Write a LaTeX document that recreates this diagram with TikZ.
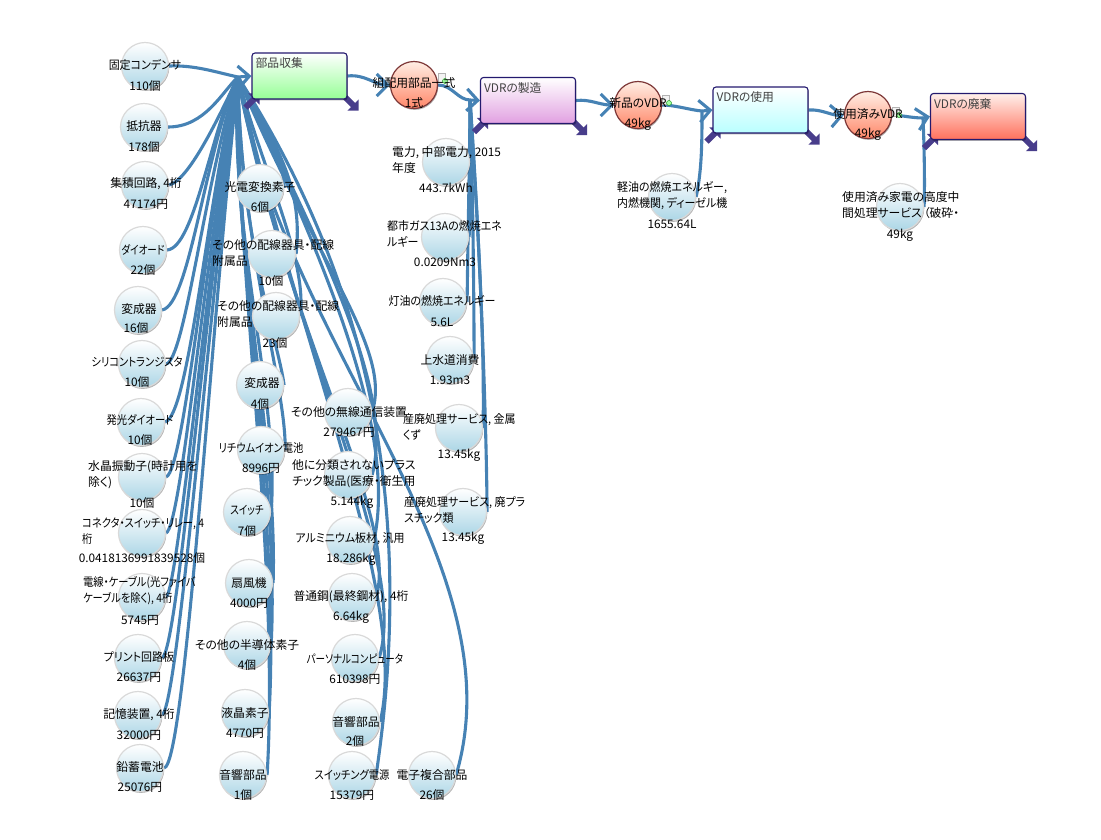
\documentclass[tikz,border=0pt]{standalone}
\usepackage{fontspec}
\setmainfont{Noto Sans CJK JP}[CharacterWidth=AlternateProportional]
\newfontfamily\kanawide{Noto Sans CJK JP}[CharacterWidth=AlternateProportional,FakeStretch=0.93]
\newfontfamily\kanamid{Noto Sans CJK JP}[CharacterWidth=AlternateProportional,FakeStretch=0.87]
\newfontfamily\kananarrow{Noto Sans CJK JP}[CharacterWidth=AlternateProportional,FakeStretch=0.81]
\usepackage{tikz}
\usetikzlibrary{arrows.meta,shadows}
\pgfdeclarelayer{background}
\pgfsetlayers{background,main}
\definecolor{flow blue}{RGB}{70,130,180}
\definecolor{tab indigo}{RGB}{72,61,139}
\tikzset{
	part/.style={
		circle,
		draw=black!15,
		line width=1.2pt,
		inner sep=0pt,
		minimum size=47pt,
		top color=white,
		bottom color={rgb,255:red,172;green,214;blue,230},
		drop shadow={shadow xshift=.8pt,shadow yshift=-1.4pt,fill=black,opacity=.3}
	},
	flow part/.style={
		part,
		draw={rgb,255:red,125;green,55;blue,55},
		top color={rgb,255:red,255;green,238;blue,228},
		bottom color={rgb,255:red,255;green,135;blue,105}
	},
	part name/.style={
		inner sep=0pt,
		align=left,
		font=\fontsize{11.8}{16}\selectfont
	},
	part amount/.style={
		part name
	},
	wide name/.style={
		part name,
		font=\kanawide\fontsize{11.8}{16}\selectfont
	},
	mid name/.style={
		part name,
		font=\kanamid\fontsize{11.8}{16}\selectfont
	},
	narrow name/.style={
		part name,
		font=\kananarrow\fontsize{11.8}{16}\selectfont
	},
	stage/.style={
		rectangle,
		rounded corners=3pt,
		draw={rgb,255:red,35;green,25;blue,110},
		line width=1.1pt,
		inner sep=0pt,
		minimum width=95pt,
		minimum height=46pt,
		top color=white,
		drop shadow={shadow xshift=.8pt,shadow yshift=-1.4pt,fill=black,opacity=.3}
	},
	stage text/.style={
		part name,
		anchor=north west,
		xshift=4pt,
		yshift=-5pt,
		text=black!75
	},
	flow/.style={
		draw=flow blue,
		line width=3.1pt
	},
	flow tip/.style={
		flow,
		-{Straight Barb[length=11pt,width=22pt,line width=3.1pt]}
	},
	tab/.style={
		draw=tab indigo,
		line width=6pt,
		-{Triangle[angle=90:11pt,fill=tab indigo]}
	},
	stock sheet/.style={
		rectangle,
		draw=black!30,
		fill=black!5,
		inner sep=0pt,
		minimum width=7pt,
		minimum height=9pt
	},
	stock dot/.style={
		circle,
		draw=black!45!green,
		fill=green!35!white,
		inner sep=0pt,
		minimum size=5pt
	}
}

\begin{document}
\begin{tikzpicture}[x=1pt,y=-1pt]
	\useasboundingbox (0,0) rectangle (1101,839);
	% stages
	\node[stage,bottom color={rgb,255:red,150;green,255;blue,150}] (collect) at (299.5,76) {};
	\node[stage,bottom color={rgb,255:red,225;green,160;blue,225}] (manufacture) at (528,100.5) {};
	\node[stage,bottom color={rgb,255:red,185;green,255;blue,255}] (usage) at (760.5,110) {};
	\node[stage,top color={rgb,255:red,255;green,240;blue,235},bottom color={rgb,255:red,255;green,112;blue,92}] (disposal) at (978,116.5) {};
	% flow circles
	\node[flow part] (assembly) at (414,85) {};
	\node[flow part] (newvdr) at (638,105) {};
	\node[flow part] (usedvdr) at (868,115) {};
	\node[stock sheet] (assembly sheet) at (442,78) {};
	\node[stock dot] (assembly dot) at (445,81) {};
	\node[stock sheet] (newvdr sheet) at (666,100) {};
	\node[stock dot] (newvdr dot) at (669,103) {};
	\node[stock sheet] (usedvdr sheet) at (896,112) {};
	\node[stock dot] (usedvdr dot) at (899,115) {};
	% left column
	\node[part] (cap) at (145,66) {};
	\node[part] (resistor) at (144,127) {};
	\node[part] (ic) at (145,185) {};
	\node[part] (diode) at (143,250) {};
	\node[part] (transformerA) at (138,310) {};
	\node[part] (silicon) at (142,364) {};
	\node[part] (led) at (141,422) {};
	\node[part] (crystal) at (142,477) {};
	\node[part] (socket) at (142,533) {};
	\node[part] (wire) at (142,597) {};
	\node[part] (pcb) at (138,658) {};
	\node[part] (memory) at (138,715) {};
	\node[part] (battery) at (140,768) {};
	% second column
	\node[part] (photo) at (260,188) {};
	\node[part] (wiringA) at (272,254) {};
	\node[part] (wiringB) at (276,316) {};
	\node[part] (transformerB) at (260,385) {};
	\node[part] (lithium) at (261,450) {};
	\node[part] (switch) at (247,512) {};
	\node[part] (fan) at (249,583) {};
	\node[part] (semiconductor) at (247,645) {};
	\node[part] (lcd) at (245,713) {};
	\node[part] (audioA) at (243,775) {};
	% third column
	\node[part] (radio) at (348,412) {};
	\node[part] (plastic) at (348,475) {};
	\node[part] (aluminum) at (350,540) {};
	\node[part] (steel) at (352,597) {};
	\node[part] (computer) at (355,658) {};
	\node[part] (audioB) at (356,722) {};
	\node[part] (psu) at (352,775) {};
	\node[part] (composite) at (432,775) {};
	% fourth column
	\node[part] (power) at (446,162) {};
	\node[part] (gas) at (445,237) {};
	\node[part] (kerosene) at (443,302) {};
	\node[part] (water) at (450,360) {};
	\node[part] (scrap) at (459,428) {};
	\node[part] (waste) at (463,512) {};
	\node[part] (diesel) at (672,197) {};
	\node[part] (recycle) at (900,207) {};
	\coordinate (collect hub) at (238,77);
	\coordinate (manufacture hub) at (470,100);
	\coordinate (usage hub) at (702,111);
	\coordinate (disposal hub) at (923,118);
	\begin{pgfonlayer}{background}
		\draw[flow] (cap.east) .. controls (195,65) and (215,72) .. (collect hub);
		\draw[flow] (resistor.east) .. controls (205,127) and (222,92) .. (collect hub);
		\draw[flow] (ic.east) .. controls (190,180) and (222,110) .. (collect hub);
		\draw[flow] (diode.east) .. controls (195,248) and (212,125) .. (collect hub);
		\draw[flow] (transformerA.east) .. controls (190,305) and (205,150) .. (collect hub);
		\draw[flow] (silicon.east) .. controls (185,360) and (205,180) .. (collect hub);
		\draw[flow] (led.east) .. controls (190,415) and (208,190) .. (collect hub);
		\draw[flow] (crystal.east) .. controls (185,470) and (208,200) .. (collect hub);
		\draw[flow] (socket.east) .. controls (182,525) and (205,250) .. (collect hub);
		\draw[flow] (wire.east) .. controls (178,590) and (208,260) .. (collect hub);
		\draw[flow] (pcb.east) .. controls (178,650) and (205,300) .. (collect hub);
		\draw[flow] (memory.east) .. controls (178,705) and (208,320) .. (collect hub);
		\draw[flow] (battery.east) .. controls (185,765) and (210,340) .. (collect hub);
		\draw[flow] (photo.east) .. controls (283,150) and (262,125) .. (collect hub);
		\draw[flow] (wiringA.east) .. controls (303,190) and (280,150) .. (collect hub);
		\draw[flow] (wiringB.east) .. controls (308,260) and (262,170) .. (collect hub);
		\draw[flow] (transformerB.east) .. controls (278,340) and (240,240) .. (collect hub);
		\draw[flow] (lithium.east) .. controls (287,390) and (240,240) .. (collect hub);
		\draw[flow] (switch.east) .. controls (280,400) and (228,230) .. (collect hub);
		\draw[flow] (fan.east) .. controls (278,440) and (230,240) .. (collect hub);
		\draw[flow] (semiconductor.east) .. controls (280,480) and (232,250) .. (collect hub);
		\draw[flow] (lcd.east) .. controls (280,520) and (235,260) .. (collect hub);
		\draw[flow] (audioA.east) .. controls (280,560) and (235,260) .. (collect hub);
		\draw[flow] (radio.east) .. controls (392,350) and (320,270) .. (collect hub);
		\draw[flow] (plastic.east) .. controls (392,400) and (340,280) .. (collect hub);
		\draw[flow] (aluminum.east) .. controls (395,440) and (340,290) .. (collect hub);
		\draw[flow] (steel.east) .. controls (400,520) and (285,330) .. (collect hub);
		\draw[flow] (computer.east) .. controls (410,560) and (290,340) .. (collect hub);
		\draw[flow] (audioB.east) .. controls (410,600) and (300,350) .. (collect hub);
		\draw[flow] (psu.east) .. controls (420,480) and (355,260) .. (collect hub);
		\draw[flow] (composite.east) .. controls (520,560) and (280,340) .. (collect hub);
		\draw[flow tip] (collect hub) -- (collect.west);
		\draw[flow tip] (collect.east) .. controls (365,74) and (375,85) .. (assembly.west);
		\draw[flow] (assembly.east) .. controls (452,85) and (458,100) .. (manufacture hub);
		\draw[flow] (power.east) .. controls (470,130) and (470,115) .. (manufacture hub);
		\draw[flow] (gas.east) .. controls (472,180) and (472,130) .. (manufacture hub);
		\draw[flow] (kerosene.east) .. controls (468,230) and (470,140) .. (manufacture hub);
		\draw[flow] (water.east) .. controls (474,280) and (472,150) .. (manufacture hub);
		\draw[flow] (scrap.east) .. controls (485,320) and (474,170) .. (manufacture hub);
		\draw[flow] (waste.east) .. controls (486,380) and (476,180) .. (manufacture hub);
		\draw[flow tip] (manufacture hub) -- (manufacture.west);
		\draw[flow tip] (manufacture.east) .. controls (590,99) and (600,105) .. (newvdr.west);
		\draw[flow] (newvdr.east) .. controls (675,105) and (690,110) .. (usage hub);
		\draw[flow] (diesel.east) .. controls (702,170) and (702,140) .. (usage hub);
		\draw[flow tip] (usage hub) -- (usage.west);
		\draw[flow tip] (usage.east) .. controls (822,109) and (832,116) .. (usedvdr.west);
		\draw[flow] (usedvdr.east) .. controls (900,115) and (912,118) .. (disposal hub);
		\draw[flow] (recycle.east) .. controls (925,180) and (924,140) .. (disposal hub);
		\draw[flow tip] (disposal hub) -- (disposal.west);
		% tabs
		\draw[tab] ([shift={(-3,-3)}]collect.south east) -- +(14,14);
		\draw[tab] ([shift={(-6,8)}]collect.south west) -- +(14,-14);
		\draw[tab] ([shift={(-3,-3)}]manufacture.south east) -- +(14,14);
		\draw[tab] ([shift={(-6,8)}]manufacture.south west) -- +(14,-14);
		\draw[tab] ([shift={(-3,-3)}]usage.south east) -- +(14,14);
		\draw[tab] ([shift={(-6,8)}]usage.south west) -- +(14,-14);
		\draw[tab] ([shift={(-3,-3)}]disposal.south east) -- +(14,14);
		\draw[tab] ([shift={(-6,8)}]disposal.south west) -- +(14,-14);
	\end{pgfonlayer}
	% texts
	\node[stage text] (collect label) at (collect.north west) {部品収集};
	\node[stage text] (manufacture label) at (manufacture.north west) {VDRの製造};
	\node[stage text] (usage label) at (usage.north west) {VDRの使用};
	\node[stage text] (disposal label) at (disposal.north west) {VDRの廃棄};
	\node[part name] (assembly name) at (414,83) {組配用部品一式};
	\node[part amount] (assembly amount) at (414,103) {1式};
	\node[part name] (newvdr name) at (638,103) {新品のVDR};
	\node[part amount] (newvdr amount) at (638,124) {49kg};
	\node[part name] (usedvdr name) at (868,114) {使用済みVDR};
	\node[part amount] (usedvdr amount) at (868,134) {49kg};
	\node[wide name] (cap name) at (145,65) {固定コンデンサ};
	\node[part amount] (cap amount) at (145,86) {110個};
	\node[part name] (resistor name) at (144,126) {抵抗器};
	\node[part amount] (resistor amount) at (144,147) {178個};
	\node[part name] (ic name) at (146,184) {集積回路, 4桁};
	\node[part amount] (ic amount) at (146,204) {47174円};
	\node[narrow name] (diode name) at (143,250) {ダイオード};
	\node[part amount] (diode amount) at (143,270) {22個};
	\node[part name] (transformerA name) at (139,309) {変成器};
	\node[part amount] (transformerA amount) at (136,328) {16個};
	\node[mid name] (silicon name) at (137,362) {シリコントランジスタ};
	\node[part amount] (silicon amount) at (137,382) {10個};
	\node[mid name] (led name) at (140,420) {発光ダイオード};
	\node[part amount] (led amount) at (140,440) {10個};
	\node[part name,anchor=west] (crystal name) at (88,475) {水晶振動子(時計用を\\除く)};
	\node[part amount] (crystal amount) at (142,503) {10個};
	\node[mid name,anchor=west] (socket name) at (82,531) {コネクタ・スイッチ・リレー, 4\\桁};
	\node[part amount] (socket amount) at (142,558) {0.0418136991839528個};
	\node[mid name,anchor=west] (wire name) at (83,591) {電線・ケーブル(光ファイバ\\ケーブルを除く), 4桁};
	\node[part amount] (wire amount) at (140,620) {5745円};
	\node[wide name] (pcb name) at (139,657) {プリント回路板};
	\node[part amount] (pcb amount) at (139,677) {26637円};
	\node[part name] (memory name) at (139,715) {記憶装置, 4桁};
	\node[part amount] (memory amount) at (139,735) {32000円};
	\node[part name] (battery name) at (140,767) {鉛蓄電池};
	\node[part amount] (battery amount) at (140,787) {25076円};
	\node[part name] (photo name) at (260,187) {光電変換素子};
	\node[part amount] (photo amount) at (260,207) {6個};
	\node[part name,anchor=west] (wiringA name) at (212,253) {その他の配線器具・配線\\附属品};
	\node[part amount] (wiringA amount) at (271,281) {10個};
	\node[part name,anchor=west] (wiringB name) at (217,314) {その他の配線器具・配線\\附属品};
	\node[part amount] (wiringB amount) at (275,343) {23個};
	\node[part name] (transformerB name) at (262,383) {変成器};
	\node[part amount] (transformerB amount) at (260,404) {4個};
	\node[mid name] (lithium name) at (261,448) {リチウムイオン電池};
	\node[part amount] (lithium amount) at (261,468) {8996円};
	\node[narrow name] (switch name) at (247,510) {スイッチ};
	\node[part amount] (switch amount) at (247,531) {7個};
	\node[part name] (fan name) at (249,583) {扇風機};
	\node[part amount] (fan amount) at (249,603) {4000円};
	\node[part name] (semiconductor name) at (247,645) {その他の半導体素子};
	\node[part amount] (semiconductor amount) at (247,665) {4個};
	\node[part name] (lcd name) at (245,713) {液晶素子};
	\node[part amount] (lcd amount) at (245,733) {4770円};
	\node[part name] (audioA name) at (243,775) {音響部品};
	\node[part amount] (audioA amount) at (243,795) {1個};
	\node[part name] (radio name) at (349,412) {その他の無線通信装置};
	\node[part amount] (radio amount) at (349,432) {279467円};
	\node[part name,anchor=west] (plastic name) at (292,474) {他に分類されないプラス\\チック製品(医療・衛生用};
	\node[part amount] (plastic amount) at (352,502) {5.144kg};
	\node[wide name] (aluminum name) at (350,539) {アルミニウム板材, 汎用};
	\node[part amount] (aluminum amount) at (351,559) {18.286kg};
	\node[part name] (steel name) at (351,597) {普通鋼(最終鋼材), 4桁};
	\node[part amount] (steel amount) at (351,617) {6.64kg};
	\node[narrow name] (computer name) at (355,659) {パーソナルコンピュータ};
	\node[part amount] (computer amount) at (355,679) {610398円};
	\node[part name] (audioB name) at (356,722) {音響部品};
	\node[part amount] (audioB amount) at (355,741) {2個};
	\node[mid name] (psu name) at (352,775) {スイッチング電源};
	\node[part amount] (psu amount) at (352,795) {15379円};
	\node[part name] (composite name) at (432,775) {電子複合部品};
	\node[part amount] (composite amount) at (432,795) {26個};
	\node[part name,anchor=west] (power name) at (392,160) {電力, 中部電力, 2015\\年度};
	\node[part amount] (power amount) at (446,188) {443.7kWh};
	\node[wide name,anchor=west] (gas name) at (387,234) {都市ガス13Aの燃焼エネ\\ルギー};
	\node[part amount] (gas amount) at (445,262) {0.0209Nm3};
	\node[wide name] (kerosene name) at (442,301) {灯油の燃焼エネルギー};
	\node[part amount] (kerosene amount) at (442,322) {5.6L};
	\node[part name] (water name) at (450,360) {上水道消費};
	\node[part amount] (water amount) at (450,380) {1.93m3};
	\node[wide name,anchor=west] (scrap name) at (403,427) {産廃処理サービス, 金属\\くず};
	\node[part amount] (scrap amount) at (459,455) {13.45kg};
	\node[wide name,anchor=west] (waste name) at (404,510) {産廃処理サービス, 廃プラ\\スチック類};
	\node[part amount] (waste amount) at (463,538) {13.45kg};
	\node[wide name,anchor=west] (diesel name) at (617,196) {軽油の燃焼エネルギー,\\内燃機関, ディーゼル機};
	\node[part amount] (diesel amount) at (672,224) {1655.64L};
	\node[part name,anchor=west] (recycle name) at (842,205) {使用済み家電の高度中\\間処理サービス\,（破砕・};
	\node[part amount] (recycle amount) at (900,235) {49kg};
\end{tikzpicture}
\end{document}
